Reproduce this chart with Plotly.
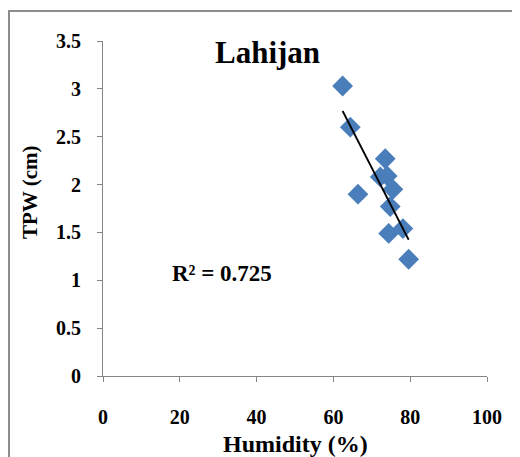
import numpy as np
import plotly.graph_objects as go

humidity = [62.4, 64.4, 73.5, 72.2, 74.0, 75.5, 66.4, 74.8, 74.4, 78.1, 79.6]
tpw = [3.03, 2.60, 2.27, 2.08, 2.09, 1.95, 1.90, 1.77, 1.49, 1.54, 1.22]
x_ticks = [0, 20, 40, 60, 80, 100]
y_ticks = [0, 0.5, 1, 1.5, 2, 2.5, 3, 3.5]
y_tick_labels = ["0", "0.5", "1", "1.5", "2", "2.5", "3", "3.5"]
title_text = "Lahijan"
r2_text = "R² = 0.725"
x_title = "Humidity (%)"
y_title = "TPW (cm)"

slope, intercept = np.polyfit(humidity, tpw, 1)
fit_x = [min(humidity), max(humidity)]
fit_y = [slope * v + intercept for v in fit_x]

FONT = "Liberation Serif"
AXIS_COLOR = "#868686"

fig = go.Figure()
fig.add_trace(go.Scatter(
    x=humidity, y=tpw, mode="markers",
    marker=dict(symbol="diamond", size=16, color="#4a7ebb", line=dict(width=0)),
    showlegend=False,
))
fig.add_trace(go.Scatter(
    x=fit_x, y=fit_y, mode="lines",
    line=dict(color="black", width=1.8),
    showlegend=False,
))

# page body has an 8px margin, so the figure is laid out in shifted coordinates
OFF = 8
W, H = 512, 449
ml, mt = 103 - OFF, 41 - OFF
plot_right, plot_bottom = 487 - OFF, 376 - OFF
mr, mb = W - plot_right, H - plot_bottom
pw, ph = W - ml - mr, H - mt - mb

def px2paper_x(px):
    return (px - OFF - ml) / pw

def px2paper_y(py):
    return (plot_bottom - (py - OFF)) / ph

fig.update_layout(
    width=W, height=H,
    margin=dict(l=ml, r=mr, t=mt, b=mb),
    paper_bgcolor="white", plot_bgcolor="white",
    font=dict(family=FONT, size=18, color="black"),
    xaxis=dict(
        range=[0, 100], tickvals=x_ticks, ticktext=[str(v) for v in x_ticks],
        showgrid=False, zeroline=False, showline=True, linecolor=AXIS_COLOR, linewidth=1,
        ticks="outside", ticklen=5, tickcolor=AXIS_COLOR, ticklabelstandoff=18,
        tickfont=dict(family=FONT, size=20, color="black", weight="bold"),
    ),
    yaxis=dict(
        range=[0, 3.5], tickvals=y_ticks, ticktext=y_tick_labels,
        showgrid=False, zeroline=False, showline=True, linecolor=AXIS_COLOR, linewidth=1,
        ticks="outside", ticklen=5, tickcolor=AXIS_COLOR, ticklabelstandoff=12,
        tickfont=dict(family=FONT, size=20, color="black", weight="bold"),
    ),
    shapes=[dict(
        type="rect", xref="paper", yref="paper",
        x0=px2paper_x(9), x1=px2paper_x(560), y0=px2paper_y(500), y1=px2paper_y(11),
        line=dict(color="#8c8c8c", width=2), fillcolor="rgba(0,0,0,0)", layer="below",
    )],
    annotations=[
        dict(text="<b>" + title_text + "</b>", xref="paper", yref="paper",
             x=px2paper_x(267), y=px2paper_y(52), showarrow=False,
             font=dict(family=FONT, size=31, color="black"), xanchor="center", yanchor="middle"),
        dict(text="<b>" + r2_text + "</b>", xref="paper", yref="paper",
             x=px2paper_x(222), y=px2paper_y(273), showarrow=False,
             font=dict(family=FONT, size=23, color="black"), xanchor="center", yanchor="middle"),
        dict(text="<b>" + x_title + "</b>", xref="paper", yref="paper",
             x=px2paper_x(295), y=px2paper_y(444), showarrow=False,
             font=dict(family=FONT, size=24, color="black"), xanchor="center", yanchor="middle"),
        dict(text="<b>" + y_title + "</b>", xref="paper", yref="paper",
             x=px2paper_x(30), y=px2paper_y(192), showarrow=False, textangle=-90,
             font=dict(family=FONT, size=21, color="black"), xanchor="center", yanchor="middle"),
    ],
)

fig.write_html("out.html")
